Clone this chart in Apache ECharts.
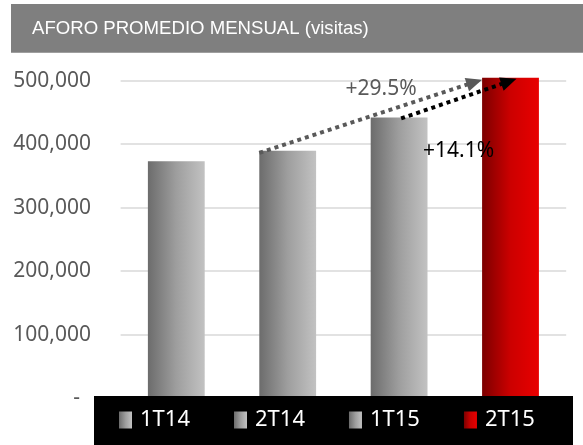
<!DOCTYPE html>
<html>
<head>
<meta charset="utf-8">
<script src="https://cdn.jsdelivr.net/npm/echarts@6/dist/echarts.min.js"></script>
<style>
html,body{margin:0;padding:0;background:#fff;}
#chart{width:583px;height:445px;}
</style>
</head>
<body>
<div id="chart"></div>
<script>
// ---- data ----
var categories = ['1T14', '2T14', '1T15', '2T15'];
var visits = [373000, 389500, 442000, 504400];
var yTicks = [0, 100000, 200000, 300000, 400000, 500000, 600000];
var titleText = 'AFORO PROMEDIO MENSUAL (visitas)';
var growthLabels = ['+29.5%', '+14.1%'];

var grayGrad = function () {
  return new echarts.graphic.LinearGradient(0, 0, 1, 0, [
    { offset: 0, color: '#6c6c6c' },
    { offset: 0.5, color: '#9e9e9e' },
    { offset: 1, color: '#c2c2c2' }
  ]);
};
var redGrad = function () {
  return new echarts.graphic.LinearGradient(0, 0, 1, 0, [
    { offset: 0, color: '#7c0000' },
    { offset: 0.5, color: '#cc0000' },
    { offset: 1, color: '#e80000' }
  ]);
};

var series = categories.map(function (name, i) {
  var d = categories.map(function (c, j) { return j === i ? visits[j] : '-'; });
  return {
    name: name,
    type: 'bar',
    data: d,
    barWidth: '51%',
    barGap: '-100%',
    z: 2,
    itemStyle: { color: i === 3 ? redGrad() : grayGrad() }
  };
});

var chart = echarts.init(document.getElementById('chart'), null, { renderer: 'canvas' });
var option = {
  animation: false,
  grid: { left: 120.6, right: 16.8, top: 17.2, bottom: 47 },
  xAxis: {
    type: 'category',
    data: categories,
    axisLine: { show: false },
    axisTick: { show: false },
    axisLabel: { show: false },
    splitLine: { show: false }
  },
  yAxis: {
    type: 'value',
    min: yTicks[0],
    max: yTicks[yTicks.length - 1],
    interval: yTicks[1] - yTicks[0],
    axisLine: { show: false },
    axisTick: { show: false },
    axisLabel: {
      margin: 29.6,
      color: '#595959',
      fontSize: 21,
      fontFamily: 'Noto Sans',
      formatter: function (v) { return v === 0 ? '-  ' : v.toLocaleString('en-US'); }
    },
    splitLine: { lineStyle: { color: '#d9d9d9', width: 1.6 } }
  },
  legend: {
    data: categories,
    left: 119,
    top: 407,
    padding: 0,
    itemGap: 44,
    itemWidth: 13,
    itemHeight: 17,
    icon: 'rect',
    z: 10,
    textStyle: { color: '#ffffff', fontSize: 22, fontFamily: 'Noto Sans', lineHeight: 26, padding: [0, 0, 0, 3] }
  },
  series: series
};
chart.setOption(option);

// ---- annotations computed from the axes ----
function px(cat, val) { return chart.convertToPixel({ xAxisIndex: 0, yAxisIndex: 0 }, [cat, val]); }
var gridW = 583 - 120.6 - 16.8;
var band = gridW / categories.length;
var halfBar = band * 0.51 / 2;

function arrow(start, tip, color, z) {
  var dx = tip[0] - start[0], dy = tip[1] - start[1];
  var len = Math.sqrt(dx * dx + dy * dy);
  var ux = dx / len, uy = dy / len;
  var L = 16, W = 14;
  var base = [tip[0] - ux * L, tip[1] - uy * L];
  var nx = -uy, ny = ux;
  return [
    {
      type: 'line', z: z,
      shape: { x1: start[0], y1: start[1], x2: base[0] + ux * 2, y2: base[1] + uy * 2 },
      style: { stroke: color, lineWidth: 4, lineDash: [4, 4], lineCap: 'butt' }
    },
    {
      type: 'polygon', z: z,
      shape: { points: [tip, [base[0] + nx * W / 2, base[1] + ny * W / 2], [base[0] - nx * W / 2, base[1] - ny * W / 2]] },
      style: { fill: color }
    }
  ];
}

var b2 = px(1, visits[1]);
var b3 = px(2, visits[2]);
var b4 = px(3, visits[3]);
var y500 = px(3, 500000)[1];

var grayStart = [b2[0] - halfBar, b2[1] + 2];
var grayTip = [b4[0] - halfBar, y500 - 1];
var blackStart = [b3[0] + 2, b3[1] + 1];
var blackTip = [b4[0] + 6, b4[1] + 1];

var lbl1 = px(2, 487000);
var lbl2 = px(2, 389000);

var graphics = [
  { type: 'rect', z: 100, shape: { x: 11, y: 4, width: 572, height: 48.7 }, style: { fill: '#7f7f7f' } },
  { type: 'text', z: 101, style: { x: 32, y: 29, text: titleText, fill: '#ffffff', fontSize: 18.6, fontFamily: 'Liberation Sans', textVerticalAlign: 'middle', textAlign: 'left' } },
  { type: 'rect', z: 3, shape: { x: 94, y: 396, width: 479, height: 49 }, style: { fill: '#000000' } },
  { type: 'text', z: 60, style: { x: lbl1[0] - 18, y: lbl1[1], text: growthLabels[0], fill: '#595959', fontSize: 21, fontFamily: 'Noto Sans', textAlign: 'center', textVerticalAlign: 'middle' } },
  { type: 'text', z: 60, style: { x: lbl2[0] + 59.5, y: lbl2[1], text: growthLabels[1], fill: '#000000', fontSize: 21, fontFamily: 'Noto Sans', textAlign: 'center', textVerticalAlign: 'middle' } }
].concat(arrow(grayStart, grayTip, '#595959', 50)).concat(arrow(blackStart, blackTip, '#000000', 51));

chart.setOption({ graphic: { elements: graphics } });
</script>
</body>
</html>
